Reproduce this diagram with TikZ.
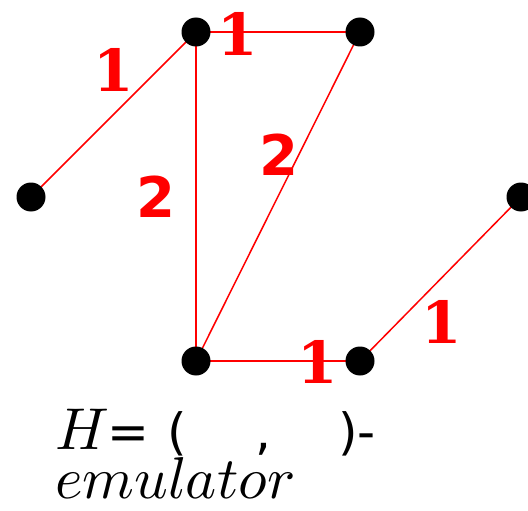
\documentclass[tikz,border=0pt]{standalone}
\usepackage{fontspec}
\newfontfamily\lblfont{DejaVu Sans}
\newfontfamily\onefont{DejaVu Serif}
\usepackage{unicode-math}
\begin{document}
\begin{tikzpicture}[x=1pt,y=-1pt,
  vertex/.style={circle,fill=black,inner sep=0pt,minimum size=29pt},
  edge/.style={draw=red,line width=1.5pt},
  onelabel/.style={text=red,font=\onefont\bfseries\fontsize{58}{58}\selectfont,inner sep=0pt},
  twolabel/.style={text=red,font=\lblfont\bfseries\fontsize{56}{56}\selectfont,inner sep=0pt},
  captext/.style={inner sep=0pt,anchor=base west,font=\fontsize{59}{59}\selectfont}]
\useasboundingbox (0,0) rectangle (528,511);
\coordinate (A) at (31,197);
\coordinate (B) at (196,32);
\coordinate (C) at (360,32);
\coordinate (D) at (196,361);
\coordinate (E) at (360,361);
\coordinate (F) at (521,197);
\draw[edge] (A) -- (B);
\draw[edge] (B) -- (C);
\draw[edge] (B) -- (D);
\draw[edge] (C) -- (D);
\draw[edge] (D) -- (E);
\draw[edge] (E) -- (F);
\node[vertex] (a) at (A) {};
\node[vertex] (b) at (B) {};
\node[vertex] (c) at (C) {};
\node[vertex] (d) at (D) {};
\node[vertex] (e) at (E) {};
\node[vertex] (f) at (F) {};
\node[onelabel] (l1) at (114,70) {1};
\node[onelabel] (l2) at (238,34) {1};
\node[twolabel] (l3) at (156,197) {2};
\node[twolabel] (l4) at (279,155) {2};
\node[onelabel] (l5) at (318,362) {1};
\node[onelabel] (l6) at (442,322) {1};
\node[captext] (h) at (55,449) {\makebox[52pt][l]{$H$}{\lblfont\fontsize{50}{50}\selectfont\makebox[60pt][l]{=}\makebox[88pt][l]{(}\makebox[83pt][l]{,})-}};
\node[captext] (em) at (55,498) {$emulator$};
\end{tikzpicture}
\end{document}
